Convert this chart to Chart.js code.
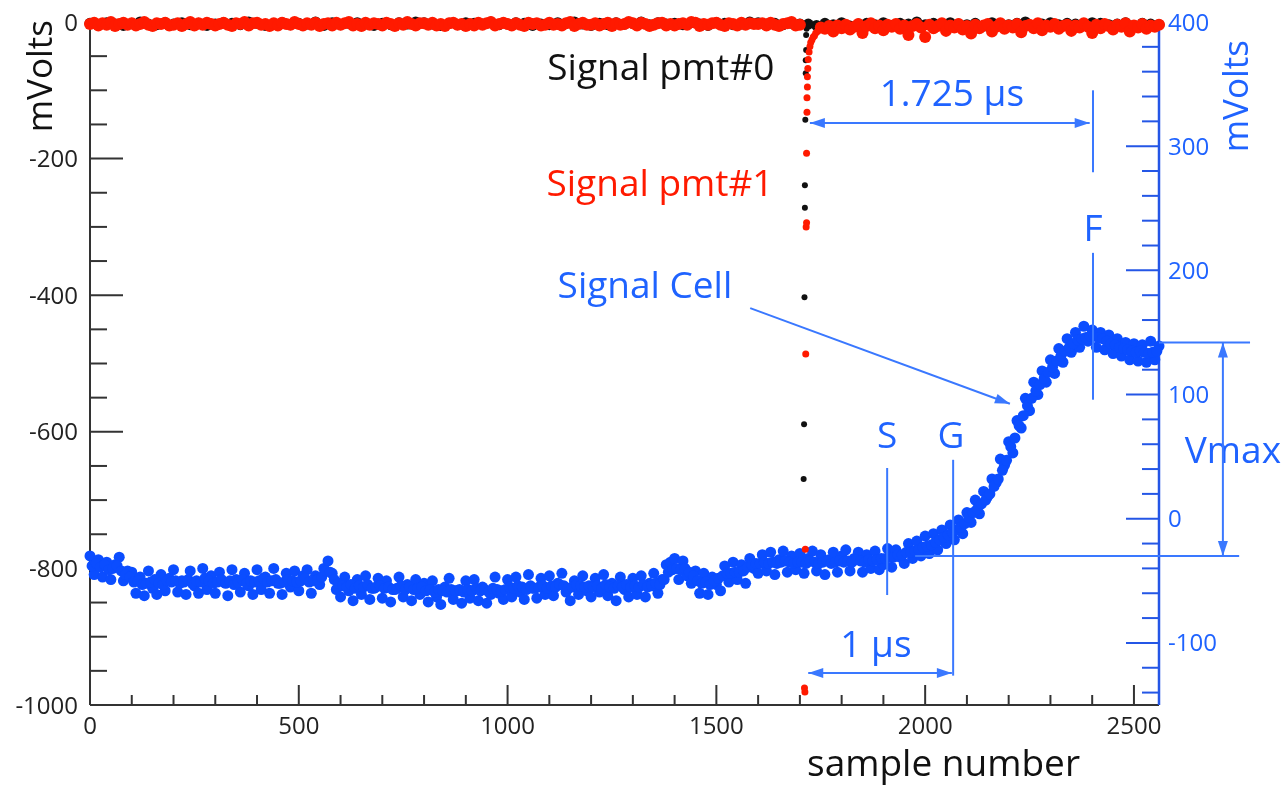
<!DOCTYPE html>
<html>
<head>
<meta charset="utf-8">
<script src="https://cdn.jsdelivr.net/npm/chart.js@4.4.1/dist/chart.umd.min.js"></script>
<style>
  html, body { margin: 0; padding: 0; background: #fff; }
  canvas { display: block; }
</style>
</head>
<body>
<canvas id="scope" width="1287" height="787" style="width:1287px;height:787px"></canvas>
<script>
// values
const CELL_STEP = 10;   // one point every 10 samples
const PMT1_STEP = 10;
const PMT0_STEP = 20;

// Signal Cell (right axis, mV), samples 0, 10, ..., 2560
const cellValues = [
  -30,-45,-33,-47,-35,-49,-37,-31,-50,-42,
  -43,-60,-47,-62,-42,-56,-61,-45,-58,-48,
  -41,-59,-50,-61,-42,-54,-60,-40,-57,-46,
  -60,-43,-51,-62,-41,-49,-59,-44,-54,-61,
  -41,-57,-47,-60,-40,-52,-61,-44,-55,-42,
  -58,-46,-41,-60,-46,-53,-40,-34,-44,-57,
  -63,-47,-58,-66,-49,-61,-46,-65,-56,-48,
  -64,-50,-67,-57,-47,-63,-53,-66,-49,-61,
  -52,-67,-50,-63,-69,-55,-48,-65,-58,-68,
  -50,-64,-49,-66,-55,-68,-61,-47,-60,-65,
  -49,-63,-47,-59,-65,-45,-56,-64,-48,-61,
  -46,-62,-52,-44,-59,-66,-50,-61,-46,-58,
  -63,-48,-59,-45,-62,-52,-66,-47,-57,-63,
  -48,-61,-46,-63,-52,-44,-60,-49,-37,-35,
  -32,-49,-34,-46,-52,-42,-60,-44,-61,-47,
  -53,-58,-38,-51,-35,-49,-37,-52,-32,-40,
  -44,-29,-42,-27,-45,-33,-26,-43,-30,-41,
  -28,-44,-32,-26,-42,-29,-45,-33,-27,-43,
  -30,-25,-42,-32,-27,-43,-29,-40,-26,-41,
  -37,-24,-39,-25,-31,-36,-20,-32,-18,-30,
  -14,-28,-12,-25,-9,-20,-5,-17,-1,-12,
  5,-3,15,4,22,18,32,29,48,43,
  62,53,79,73,97,87,110,100,119,110,
  128,117,137,126,145,134,150,138,155,143,
  152,138,150,136,148,133,145,131,142,128,
  141,127,140,126,143,128,139
];
// Signal Cell, in-between samples 5, 15, ..., 2555
const cellValuesMid = [
  -38,-36,-39,-37,-41,-40,-38,-42,-45,-47,
  -51,-50,-53,-52,-51,-49,-52,-53,-50,-51,
  -50,-52,-51,-49,-52,-50,-51,-48,-50,-52,
  -51,-49,-52,-50,-53,-51,-49,-52,-50,-51,
  -50,-48,-51,-50,-49,-52,-51,-49,-50,-51,
  -50,-48,-51,-50,-49,-47,-42,-43,-49,-52,
  -54,-55,-53,-56,-54,-55,-53,-56,-55,-54,
  -56,-55,-57,-56,-54,-57,-55,-57,-56,-55,
  -58,-57,-59,-57,-58,-59,-57,-58,-57,-59,
  -57,-58,-56,-58,-57,-59,-56,-57,-58,-57,
  -55,-56,-54,-55,-57,-54,-56,-55,-54,-56,
  -54,-55,-53,-54,-56,-55,-53,-54,-55,-54,
  -55,-54,-56,-53,-55,-56,-54,-55,-53,-55,
  -54,-55,-53,-55,-54,-52,-53,-49,-43,-41,
  -40,-41,-40,-43,-46,-50,-52,-51,-53,-50,
  -48,-46,-44,-44,-43,-43,-42,-39,-37,-36,
  -36,-35,-36,-35,-36,-35,-34,-35,-36,-35,
  -35,-36,-34,-35,-36,-35,-34,-36,-35,-34,
  -35,-34,-35,-33,-34,-35,-33,-34,-33,-32,
  -32,-31,-31,-29,-29,-27,-27,-26,-25,-23,
  -22,-21,-19,-17,-15,-13,-11,-9,-7,-4,
  1,5,8,12,15,20,26,32,39,47,
  58,65,75,83,91,97,103,108,113,118,
  122,127,131,135,138,141,144,145,146,147,
  147,146,145,143,141,140,138,137,136,135,
  134,135,134,133,134,135
];

// Signal pmt#1 (left axis, mV)
const pmt1Before = [   // samples 0..1700
  -3,-1,-5,-2,-4,0,-6,-3,-1,-4,
  -2,-5,-3,0,-4,-6,-2,-3,-1,-5,
  -4,-2,-6,-3,0,-5,-2,-4,-1,-3,
  -5,-3,-1,-4,-6,-2,-3,0,-5,-2,
  -1,-4,-3,-6,-2,-5,-1,-3,-4,0,
  -3,-5,-2,-4,-1,-6,-3,-2,-5,-1,
  -4,-2,0,-5,-3,-6,-1,-4,-2,-3,
  -5,-1,-3,-6,-2,-4,0,-3,-5,-2,
  -2,-4,-1,-5,-3,-6,-2,-1,-4,-3,
  -6,-3,-5,-1,-4,-2,0,-5,-3,-1,
  -3,-5,-2,-4,-6,-1,-3,-2,-5,-4,
  -1,-4,-3,-5,-2,0,-6,-3,-1,-4,
  -4,-2,-5,-3,-1,-6,-2,-4,-3,0,
  -2,-5,-1,-3,-6,-4,-2,-1,-5,-3,
  -5,-3,-2,-4,0,-1,-6,-3,-4,-2,
  -1,-4,-6,-2,-3,-5,-1,-4,-2,-3,
  -3,-2,-5,-1,-4,-6,-3,-2,0,-5,
  -4
];
const pmt1AfterStart = 1750;
const pmt1After = [    // samples 1750..2560
  -8,-10,-6,-14,-5,-9,-4,-11,-7,
  -3,-16,-6,-2,-9,-5,-12,-4,-7,-3,
  -10,-5,-19,-6,-3,-8,-22,-4,-9,-6,
  -2,-13,-5,-8,-3,-11,-6,-17,-4,-9,
  -5,-3,-14,-7,-2,-10,-5,-8,-3,-15,
  -6,-4,-9,-2,-12,-5,-7,-3,-10,-6,
  -4,-13,-5,-8,-2,-7,-16,-4,-9,-3,
  -6,-11,-4,-7,-2,-14,-5,-8,-3,-10,
  -5,-7,-4
];
const pmt1PulseSamples = [1711, 1712, 1713, 1714, 1715, 1716, 1716, 1717, 1717, 1718, 1718, 1719, 1720, 1722, 1724, 1726, 1729, 1732, 1735, 1738, 1742];
const pmt1PulseValues  = [-975, -981, -772, -486, -300, -294, -192, -132, -111, -95, -80, -68, -55, -44, -36, -30, -26, -22, -20, -16, -14];

// Signal pmt#0 (left axis, mV)
const pmt0Before = [   // samples 0..1700
  -2,-4,-1,-3,-5,-2,0,-3,-4,-1,
  -3,-1,-4,-2,-5,-3,-1,-2,-4,0,
  -2,-5,-3,-1,-4,-2,-3,0,-5,-1,
  -4,-2,-1,-3,-5,-2,-4,-1,-3,0,
  -1,-3,-5,-2,-4,-1,-2,-3,0,-4,
  -3,-1,-2,-5,-3,-4,-1,-2,0,-3,
  -5,-2,-4,-1,-3,-2,0,-4,-1,-3,
  -2,-4,-1,-3,-5,-1,-2,-4,-3,0,
  -1,-3,-2,-4,-2,-3
];
const pmt0AfterStart = 1720;
const pmt0After = [    // samples 1720..2560
  -3,-5,-2,-4,-1,-6,-3,-2,-4,-1,
  -5,-2,-3,0,-4,-2,-5,-1,-3,-4,
  -2,-6,-1,-3,-4,-2,0,-5,-3,-1,
  -4,-2,-3,-5,-1,-2,-4,-3,-1,-5,
  -2,-3,-4
];
const pmt0PulseSamples = [1709, 1710, 1711, 1712, 1712, 1713, 1714, 1714, 1715, 1715, 1716, 1717];
const pmt0PulseValues  = [-669, -589, -403, -272, -239, -143, -75, -56, -41, -19, -10, -5];

const xTickLabels = [0, 500, 1000, 1500, 2000, 2500];
const leftTickLabels = [0, -200, -400, -600, -800, -1000];
const rightTickLabels = [400, 300, 200, 100, 0, -100];

const FONT = "'Open Sans', 'DejaVu Sans', sans-serif";
const RED = '#ff1a00';
const BLUE_DOT = '#0b4dff';
const BLUE_AX = '#2456e6';
const BLUE_TXT = '#1f63ff';
const BLUE_LINE = '#3a78ff';

function toPoints(values, start, step) {
  return values.map((v, i) => ({ x: start + i * step, y: v }));
}
function pairPoints(xs, ys) {
  return xs.map((x, i) => ({ x: x, y: ys[i] }));
}

function arrowHead(ctx, x1, y1, x2, y2) {
  const a = Math.atan2(y2 - y1, x2 - x1), L = 15, W = 5;
  ctx.beginPath();
  ctx.moveTo(x2, y2);
  ctx.lineTo(x2 - L * Math.cos(a) + W * Math.sin(a), y2 - L * Math.sin(a) - W * Math.cos(a));
  ctx.lineTo(x2 - L * Math.cos(a) - W * Math.sin(a), y2 - L * Math.sin(a) + W * Math.cos(a));
  ctx.closePath();
  ctx.fill();
}
function seg(ctx, x1, y1, x2, y2) {
  ctx.beginPath();
  ctx.moveTo(x1, y1);
  ctx.lineTo(x2, y2);
  ctx.stroke();
}

// axes with inward ticks, like the scope software draws them
const scopeFrame = {
  id: 'scopeFrame',
  beforeDatasetsDraw(chart) {
    const { ctx, chartArea: a, scales } = chart;
    ctx.save();
    ctx.lineCap = 'butt';
    ctx.lineWidth = 2;
    ctx.strokeStyle = '#333';
    seg(ctx, a.left, a.top, a.left, a.bottom);
    seg(ctx, a.left, a.bottom, a.right, a.bottom);
    for (let v = -1000; v <= 0; v += 50) {
      const y = scales.y.getPixelForValue(v);
      seg(ctx, a.left, y, a.left + (v % 200 === 0 ? 33 : 17), y);
    }
    for (let v = 100; v <= 2500; v += 100) {
      const x = scales.x.getPixelForValue(v);
      seg(ctx, x, a.bottom, x, a.bottom - (v % 500 === 0 ? 20 : 10));
    }
    ctx.strokeStyle = BLUE_AX;
    ctx.lineWidth = 2.5;
    seg(ctx, a.right, a.top, a.right, a.bottom);
    ctx.lineWidth = 2;
    for (let v = -140; v <= 400; v += 20) {
      const y = scales.y2.getPixelForValue(v);
      seg(ctx, a.right, y, a.right - (v % 100 === 0 ? 33 : 17), y);
    }

    // tick labels
    ctx.font = '24px ' + FONT;
    ctx.textBaseline = 'alphabetic';
    ctx.fillStyle = '#222';
    ctx.textAlign = 'right';
    leftTickLabels.forEach(v => ctx.fillText(String(v), a.left - 12, scales.y.getPixelForValue(v) + 8.5));
    ctx.textAlign = 'center';
    xTickLabels.forEach(v => ctx.fillText(String(v), scales.x.getPixelForValue(v), a.bottom + 29));
    ctx.fillStyle = BLUE_TXT;
    ctx.textAlign = 'left';
    rightTickLabels.forEach(v => ctx.fillText(String(v), a.right + 9, scales.y2.getPixelForValue(v) + 8.5));
    ctx.restore();
  },
  afterDatasetsDraw(chart) {
    const { ctx, scales } = chart;
    const X = v => scales.x.getPixelForValue(v);
    const Y = v => scales.y.getPixelForValue(v);
    const Y2 = v => scales.y2.getPixelForValue(v);
    ctx.save();

    // axis titles
    ctx.fillStyle = '#111';
    ctx.font = '35px ' + FONT;
    ctx.textBaseline = 'alphabetic';
    ctx.save();
    ctx.translate(52, 20);
    ctx.rotate(-Math.PI / 2);
    ctx.textAlign = 'right';
    ctx.fillText('mVolts', 0, 0);
    ctx.restore();
    ctx.save();
    ctx.fillStyle = BLUE_TXT;
    ctx.translate(1248, 40);
    ctx.rotate(-Math.PI / 2);
    ctx.textAlign = 'right';
    ctx.fillText('mVolts', 0, 0);
    ctx.restore();
    ctx.font = '37px ' + FONT;
    ctx.textAlign = 'right';
    ctx.fillText('sample number', 1080, 776);

    // labels
    ctx.font = '37px ' + FONT;
    ctx.textAlign = 'center';
    ctx.textBaseline = 'middle';
    ctx.fillStyle = '#111';
    ctx.fillText('Signal pmt#0', X(1367), Y(-70));
    ctx.fillStyle = RED;
    ctx.fillText('Signal pmt#1', X(1365), Y(-239));
    ctx.fillStyle = BLUE_TXT;
    ctx.fillText('1.725 \u00b5s', X(2064), Y(-108));
    ctx.fillText('F', X(2402), Y(-305));
    ctx.fillText('Signal Cell', X(1329), Y(-388));
    ctx.fillText('S', X(1909), Y(-608));
    ctx.fillText('G', X(2062), Y(-608));
    ctx.fillText('1 \u00b5s', X(1882), Y(-915));
    ctx.fillText('Vmax', X(2737), Y(-630));

    // markers and arrows
    ctx.strokeStyle = BLUE_LINE;
    ctx.fillStyle = BLUE_LINE;
    ctx.lineWidth = 2;
    // 1.725 us
    seg(ctx, X(1724), Y(-148), X(2394), Y(-148));
    arrowHead(ctx, X(2394), Y(-148), X(1724), Y(-148));
    arrowHead(ctx, X(1724), Y(-148), X(2394), Y(-148));
    seg(ctx, X(2402), Y(-100), X(2402), Y(-220));
    seg(ctx, X(2402), Y(-338), X(2402), Y(-553));
    // signal cell pointer
    seg(ctx, X(1581), Y(-419), X(2203), Y(-559));
    arrowHead(ctx, X(1581), Y(-419), X(2203), Y(-559));
    // S and G
    seg(ctx, X(1909), Y(-653), X(1909), Y(-839));
    seg(ctx, X(2067), Y(-641), X(2067), Y(-957));
    // 1 us
    seg(ctx, X(1720), Y(-953), X(2064), Y(-953));
    arrowHead(ctx, X(2064), Y(-953), X(1720), Y(-953));
    arrowHead(ctx, X(1720), Y(-953), X(2064), Y(-953));
    // Vmax
    seg(ctx, X(2560), Y2(142), X(2778), Y2(142));
    seg(ctx, X(1976), Y2(-30), X(2752), Y2(-30));
    seg(ctx, X(2713), Y2(142), X(2713), Y2(-30));
    arrowHead(ctx, X(2713), Y2(-30), X(2713), Y2(142));
    arrowHead(ctx, X(2713), Y2(142), X(2713), Y2(-30));
    ctx.restore();
  }
};

const dot = (color, r) => ({
  showLine: false,
  pointRadius: r,
  pointHoverRadius: r,
  pointBorderWidth: 0,
  pointBackgroundColor: color,
  borderColor: color,
  backgroundColor: color,
  clip: false
});

new Chart(document.getElementById('scope'), {
  type: 'scatter',
  data: {
    datasets: [
      Object.assign({
        label: 'Signal pmt#1',
        data: toPoints(pmt1Before, 0, PMT1_STEP).concat(toPoints(pmt1After, pmt1AfterStart, PMT1_STEP)),
        yAxisID: 'y', order: 0
      }, dot(RED, 6)),
      Object.assign({
        label: 'pmt#1 pulse',
        data: pairPoints(pmt1PulseSamples, pmt1PulseValues),
        yAxisID: 'y', order: 0
      }, dot(RED, 3.5)),
      Object.assign({
        label: 'Signal pmt#0',
        data: toPoints(pmt0Before, 0, PMT0_STEP).concat(toPoints(pmt0After, pmt0AfterStart, PMT0_STEP)),
        yAxisID: 'y', order: 1
      }, dot('#111', 5.5)),
      Object.assign({
        label: 'pmt#0 pulse',
        data: pairPoints(pmt0PulseSamples, pmt0PulseValues),
        yAxisID: 'y', order: 1
      }, dot('#111', 3)),
      Object.assign({
        label: 'Signal Cell',
        data: toPoints(cellValues, 0, CELL_STEP).concat(toPoints(cellValuesMid, CELL_STEP / 2, CELL_STEP)),
        yAxisID: 'y2', order: 2
      }, dot(BLUE_DOT, 5.5))
    ]
  },
  options: {
    responsive: false,
    animation: false,
    devicePixelRatio: 1,
    layout: { padding: { top: 22, left: 0, right: 0, bottom: 0 } },
    plugins: { legend: { display: false }, tooltip: { enabled: false } },
    scales: {
      x: {
        type: 'linear', min: 0, max: 2560,
        grid: { display: false }, border: { display: false },
        ticks: { display: false },
        afterFit: s => { s.height = 82; }
      },
      y: {
        type: 'linear', position: 'left', min: -1000, max: 0,
        grid: { display: false }, border: { display: false },
        ticks: { display: false },
        afterFit: s => { s.width = 90; }
      },
      y2: {
        type: 'linear', position: 'right', min: -150, max: 400,
        grid: { display: false }, border: { display: false },
        ticks: { display: false },
        afterFit: s => { s.width = 128; }
      }
    }
  },
  plugins: [scopeFrame]
});
</script>
</body>
</html>
